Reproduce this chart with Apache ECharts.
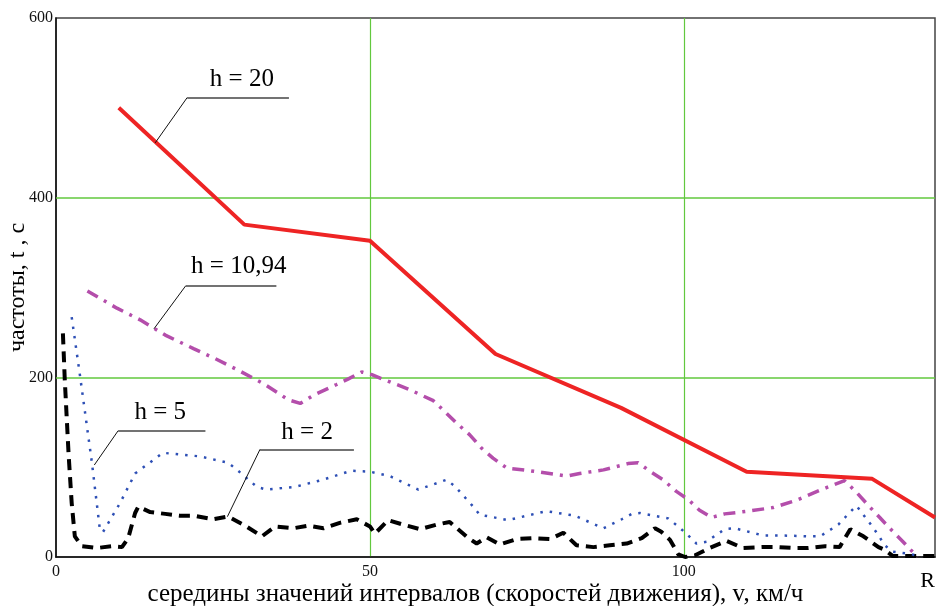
<!DOCTYPE html>
<html>
<head>
<meta charset="utf-8">
<script src="https://cdn.jsdelivr.net/npm/echarts@6/dist/echarts.min.js"></script>
<style>
  html, body { margin: 0; padding: 0; background: #fff; }
  #chart { width: 937px; height: 606px; }
</style>
</head>
<body>
<div id="chart"></div>
<script>
// Duration of travel at each speed interval, for several road profile heights h
// [v (km/h), t (s)]
const seriesH20 = [
  [10, 500], [30, 370], [50, 352], [70, 226], [90, 166],
  [110, 95], [120, 91], [130, 87], [140, 44]
];

const seriesH1094 = [
  [5, 296], [9.7, 277], [13.4, 264], [17.4, 247], [21.9, 232], [25.3, 221],
  [29, 208], [33.3, 192], [37, 175], [38.9, 171], [41, 180], [44.7, 192],
  [46.5, 198], [48.7, 206], [50.3, 203], [52.4, 197], [56.1, 187], [60.1, 174],
  [61.9, 162], [63.8, 149], [65.9, 136], [67.8, 121], [69.6, 110], [71.8, 99],
  [75.5, 96], [79.5, 92], [81.3, 90], [83.4, 93], [87.2, 97], [91.1, 104],
  [92.7, 105], [94.9, 94], [96.7, 86], [98.8, 73], [100.7, 64], [102.5, 52],
  [104.4, 44], [106.5, 48], [110.2, 51], [114.2, 55], [117.9, 63], [121.9, 75],
  [125.6, 85], [127.5, 72], [129.3, 58], [131.2, 44], [132.8, 32], [134.9, 17],
  [136.8, 3], [137.2, 0]
];

const seriesH5 = [
  [2.5, 267], [3.8, 203], [5.7, 106], [7, 30], [7.5, 28], [10.2, 60],
  [12.6, 93], [15.5, 108], [17, 116], [22.9, 112], [27.4, 105], [29, 96],
  [32, 78], [33.5, 75], [38, 78], [42.5, 86], [47, 96], [50, 95],
  [53.2, 90], [57.7, 75], [62.2, 86], [63.5, 79], [66.2, 58], [67.5, 47],
  [69.1, 45], [72, 41], [75, 46], [78.1, 51], [82.6, 46], [87.2, 32],
  [90.1, 42], [91.7, 48], [93, 49], [97.5, 43], [99.1, 34], [100.7, 24],
  [102, 15], [103.6, 17], [106.5, 31], [108.1, 32], [112.6, 24], [115.5, 24],
  [120, 23], [121.7, 23], [124.6, 36], [126.2, 48], [127.5, 57], [128.7, 46],
  [129.9, 35], [131, 24], [132, 13], [133.3, 6], [136.3, 3], [137.8, 0]
];

const seriesH2 = [
  [1.1, 249], [1.4, 197], [2, 115], [2.5, 60], [3, 23], [4.1, 12],
  [6.5, 10], [8.9, 12], [10.5, 11], [11.5, 21], [12.6, 49], [13.1, 56],
  [15, 50], [17.4, 48], [19.7, 46], [22, 46], [25, 42], [27.4, 45],
  [30.1, 35], [32.8, 23], [34.9, 34], [37.8, 32], [40.2, 35], [42.6, 32],
  [45.2, 38], [47.9, 42], [50, 34], [50.8, 26], [52.9, 41], [55.3, 36],
  [58, 31], [60.6, 36], [62.7, 39], [63.5, 34], [65.7, 21], [67, 15],
  [68.6, 22], [70.7, 14], [73.4, 20], [76, 21], [78.7, 20], [80.8, 27],
  [82.9, 13], [85.6, 11], [88.2, 13], [90.9, 15], [93.3, 21], [95.4, 32],
  [96.4, 28], [97.8, 19], [99.1, 3], [100.2, 0], [101.8, 2], [104.1, 10],
  [106.8, 18], [109.4, 10], [112.4, 11], [115, 11], [117.4, 10], [119.8, 10],
  [122.5, 12], [124.8, 11], [126.5, 31], [128.6, 23], [131, 11], [132, 8],
  [133.3, 1], [138.6, 1], [140, 1]
];

// Curve captions and their leader lines (in axis units)
const captionText = ['h = 20', 'h = 10,94', 'h = 5', 'h = 2'];
const captionPos = [[29.6, 532], [29.1, 324], [16.6, 161], [40, 139]];
// each leader: point on curve -> elbow -> end of the shelf under the caption
const leaderPaths = [
  [[15.8, 461], [20.9, 511.5], [37.1, 511.5]],
  [[15.6, 254], [20.65, 301.8], [35.1, 301.8]],
  [[6.1, 102.4], [9.9, 140.6], [23.8, 140.6]],
  [[27.3, 44.9], [32.5, 119.9], [47.45, 119.9]]
];

const xTicks = { min: 0, max: 140, step: 50 };
const yTicks = { min: 0, max: 600, step: 200 };
// inner horizontal grid levels
const yGridLevels = [200, 400];

const serif = '"Liberation Serif", "Times New Roman", serif';
const gridGreen = '#62c83e';

const leaderData = [];
leaderPaths.forEach(p => {
  leaderData.push({ coords: [p[0], p[1]], lineStyle: { width: 1, color: '#111', opacity: 1 } });
  leaderData.push({ coords: [p[1], p[2]], lineStyle: { width: 1.6, color: '#444', opacity: 1 } });
});

const hGridData = yGridLevels.map(v => ({
  coords: [[xTicks.min, v], [xTicks.max, v]],
  lineStyle: { width: 1.5, color: gridGreen, opacity: 1 }
}));

const captionData = captionText.map((t, i) => ({ name: t, value: captionPos[i] }));

const chart = echarts.init(document.getElementById('chart'), null, { renderer: 'canvas' });

chart.setOption({
  animation: false,
  backgroundColor: '#fff',
  grid: {
    left: 56, top: 18, right: 2, bottom: 49,
    outerBoundsMode: 'none',
    show: true, borderColor: '#444', borderWidth: 1.5, containLabel: false
  },
  xAxis: {
    type: 'value',
    min: xTicks.min, max: xTicks.max, interval: xTicks.step,
    name: 'середины значений интервалов (скоростей движения), v, км/ч',
    nameLocation: 'middle', nameGap: 25, nameMoveOverlap: false,
    nameTextStyle: { fontFamily: serif, fontSize: 25, color: '#000', padding: [0, 40, 0, 0] },
    axisLine: { show: true, lineStyle: { color: '#111', width: 1.5 } },
    axisTick: { show: false },
    axisLabel: {
      fontFamily: serif, fontSize: 16, color: '#111', margin: 7,
      showMaxLabel: true,
      formatter: v => (v === xTicks.max ? '{r|R}' : String(v)),
      rich: { r: { fontFamily: serif, fontSize: 22, color: '#000', padding: [6, 0, 0, 0] } },
      alignMaxLabel: 'right'
    },
    splitLine: {
      show: true, showMinLine: false, showMaxLine: false,
      lineStyle: { color: [gridGreen], width: 1.2, opacity: 1 }
    }
  },
  yAxis: {
    type: 'value',
    min: yTicks.min, max: yTicks.max, interval: yTicks.step,
    name: 'частоты, t , c',
    nameLocation: 'middle', nameGap: 26, nameRotate: 90, nameMoveOverlap: false,
    nameTextStyle: { fontFamily: serif, fontSize: 24, color: '#000' },
    axisLine: { show: true, lineStyle: { color: '#111', width: 1.5 } },
    axisTick: { show: false },
    axisLabel: { fontFamily: serif, fontSize: 16, color: '#111', margin: 3 },
    splitLine: { show: false }
  },
  series: [
    {
      // horizontal grid lines, kept beneath the curves
      type: 'lines', coordinateSystem: 'cartesian2d', silent: true, z: 1,
      lineStyle: { opacity: 1 },
      data: hGridData
    },
    {
      name: 'h = 2', type: 'line', data: seriesH2, showSymbol: false, silent: true,
      lineStyle: { color: '#000', width: 4, type: [11, 7] }, z: 3
    },
    {
      name: 'h = 5', type: 'line', data: seriesH5, showSymbol: false, silent: true,
      lineStyle: { color: '#2d4fb5', width: 2.5, type: [2.5, 7], cap: 'butt' }, z: 4
    },
    {
      name: 'h = 10,94', type: 'line', data: seriesH1094, showSymbol: false, silent: true,
      lineStyle: { color: '#b44eab', width: 3.5, type: [12, 7, 3, 7] }, z: 5
    },
    {
      name: 'h = 20', type: 'line', data: seriesH20, showSymbol: false, silent: true,
      lineStyle: { color: '#ee2424', width: 4 }, z: 6
    },
    {
      type: 'lines', coordinateSystem: 'cartesian2d', silent: true, z: 7,
      lineStyle: { opacity: 1 },
      data: leaderData
    },
    {
      type: 'scatter', data: captionData, symbolSize: 0, silent: true, z: 8,
      itemStyle: { opacity: 1 },
      label: {
        show: true, position: 'inside', formatter: p => p.name,
        fontFamily: serif, fontSize: 25, color: '#000', opacity: 1
      }
    }
  ]
});
</script>
</body>
</html>
